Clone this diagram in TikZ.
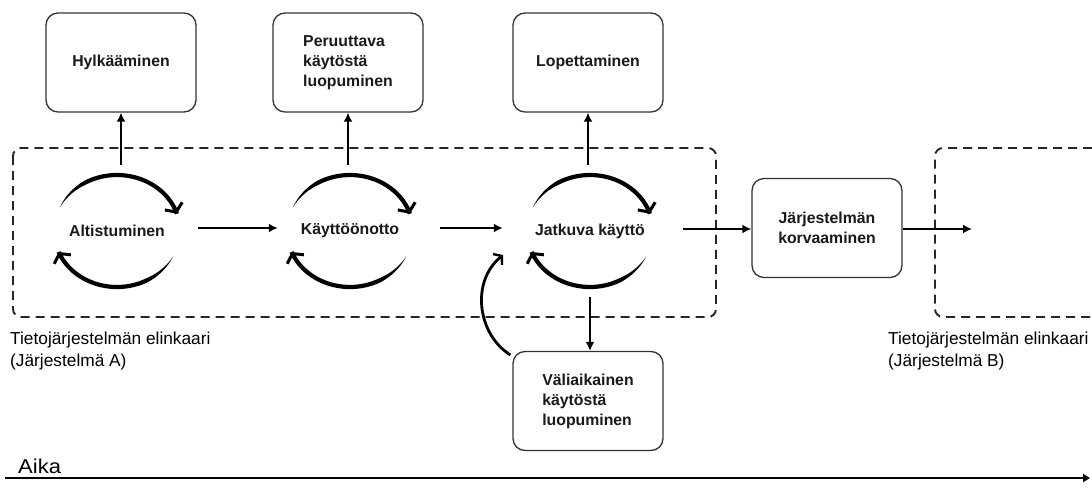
\documentclass[tikz,border=0pt]{standalone}
\usepackage{fontspec}
\setmainfont{Liberation Sans}
\newfontfamily\widefont[FakeStretch=1.1]{Liberation Sans}
\usetikzlibrary{arrows.meta}
\tikzset{
  box/.style={draw=black!80, line width=1.3pt, rounded corners=12pt, minimum width=150pt, minimum height=99pt, inner sep=0pt, font=\bfseries\fontsize{15.8}{20}\selectfont, align=left, text=black!90},
  cyc/.style={minimum width=176pt, minimum height=132pt, inner sep=0pt, font=\bfseries\fontsize{15.8}{18}\selectfont, text=black!90},
  conn/.style={line width=2.1pt, -{Latex[length=9pt,width=9pt]}},
  lifebox/.style={dash pattern=on 9pt off 6pt, line width=1.9pt, rounded corners=8pt, black!85},
  lbl/.style={font=\fontsize{17.3}{22}\selectfont, align=left, anchor=north west, inner sep=0pt},
  brushtip/.style={line width=3.5pt, -{Straight Barb[length=6.5pt,width=19pt,line width=3pt]}},
}
\newcommand\brusharc[4]{%
  \fill[black] plot[domain=#3:#4, samples=60, variable=\t]
    ({#1+(63+2.1*min(1,abs(\t-(#3))/35))*cos(\t)}, {#2-(56+2.1*min(1,abs(\t-(#3))/35))*sin(\t)})
    -- plot[domain=#4:#3, samples=60, variable=\t]
    ({#1+(63-2.1*min(1,abs(\t-(#3))/35))*cos(\t)}, {#2-(56-2.1*min(1,abs(\t-(#3))/35))*sin(\t)}) -- cycle;
  \draw[brushtip] ({#1+63*cos(#4+7)},{#2-56*sin(#4+7)}) -- ({#1+63*cos(#4)},{#2-56*sin(#4)});
}
\begin{document}
\begin{tikzpicture}[x=1pt, y=-1pt]
\useasboundingbox[fill=white] (0,0) rectangle (1092,488);

% lifecycle frames
\draw[lifebox] (13,148) rectangle (716,317);
\draw[lifebox] (1092,148) -- (935,148) -- (935,317) -- (1092,317);

% cycle nodes
\node[cyc] (alt) at (117,231) {Altistuminen};
\node[cyc] (kay) at (350,231) {Käyttöönotto};
\node[cyc] (jat) at (590,231) {Jatkuva käyttö};

\brusharc{117}{231}{155}{18}
\brusharc{117}{231}{-27}{-158}
\brusharc{350}{231}{155}{18}
\brusharc{350}{231}{-27}{-158}
\brusharc{590}{231}{155}{18}
\brusharc{590}{231}{-27}{-158}

% boxes
\node[box] (hyl) at (121,62.5) {Hylkääminen};
\node[box] (per) at (348,62.5) {Peruuttava\\käytöstä\\luopuminen};
\node[box] (lop) at (588,62.5) {Lopettaminen};
\node[box, align=center] (kor) at (827,228) {Järjestelmän\\korvaaminen};
\node[box] (val) at (588,401) {Väliaikainen\\käytöstä\\luopuminen};

% connectors
\draw[conn] (hyl.south |- alt.north) -- (hyl.south);
\draw[conn] (per.south |- kay.north) -- (per.south);
\draw[conn] (lop.south |- jat.north) -- (lop.south);
\draw[conn] ([xshift=2pt]val.north |- jat.south) -- ([xshift=2pt]val.north);
\draw[conn, shorten <=-7pt, shorten >=-16pt] ([yshift=3pt]alt.east) -- ([yshift=3pt]kay.west);
\draw[conn, shorten <=2pt, shorten >=-1pt] ([yshift=3pt]kay.east) -- ([yshift=3pt]jat.west);
\draw[conn, shorten <=5pt] ([yshift=2pt]jat.east) -- ([yshift=-1pt]kor.west);
\coordinate (bin) at (972,229);
\draw[conn] ([yshift=-1pt]kor.east) -- (bin);

% return arrow
\coordinate (jin) at (503,255);
\draw[line width=2.8pt, -{Straight Barb[length=5.5pt,width=14pt,line width=2.4pt]}]
  ([shift={(-2,4)}]val.north west) .. controls (478,335) and (470,282) .. (jin);

% labels
\node[lbl] (la) at (10,332) {Tietojärjestelmän elinkaari\\(Järjestelmä A)};
\node[lbl] (lb) at (888,332) {Tietojärjestelmän elinkaari\\(Järjestelmä B)};

% time axis
\node[font=\widefont\fontsize{20}{22}\selectfont, anchor=south west, inner sep=0pt] (aika) at (18,474) {Aika};
\coordinate (ax0) at (5,478);
\coordinate (ax1) at (1090,478);
\draw[line width=2.7pt, -{Triangle[length=7pt,width=8pt]}] (ax0) -- (ax1);
\end{tikzpicture}
\end{document}
